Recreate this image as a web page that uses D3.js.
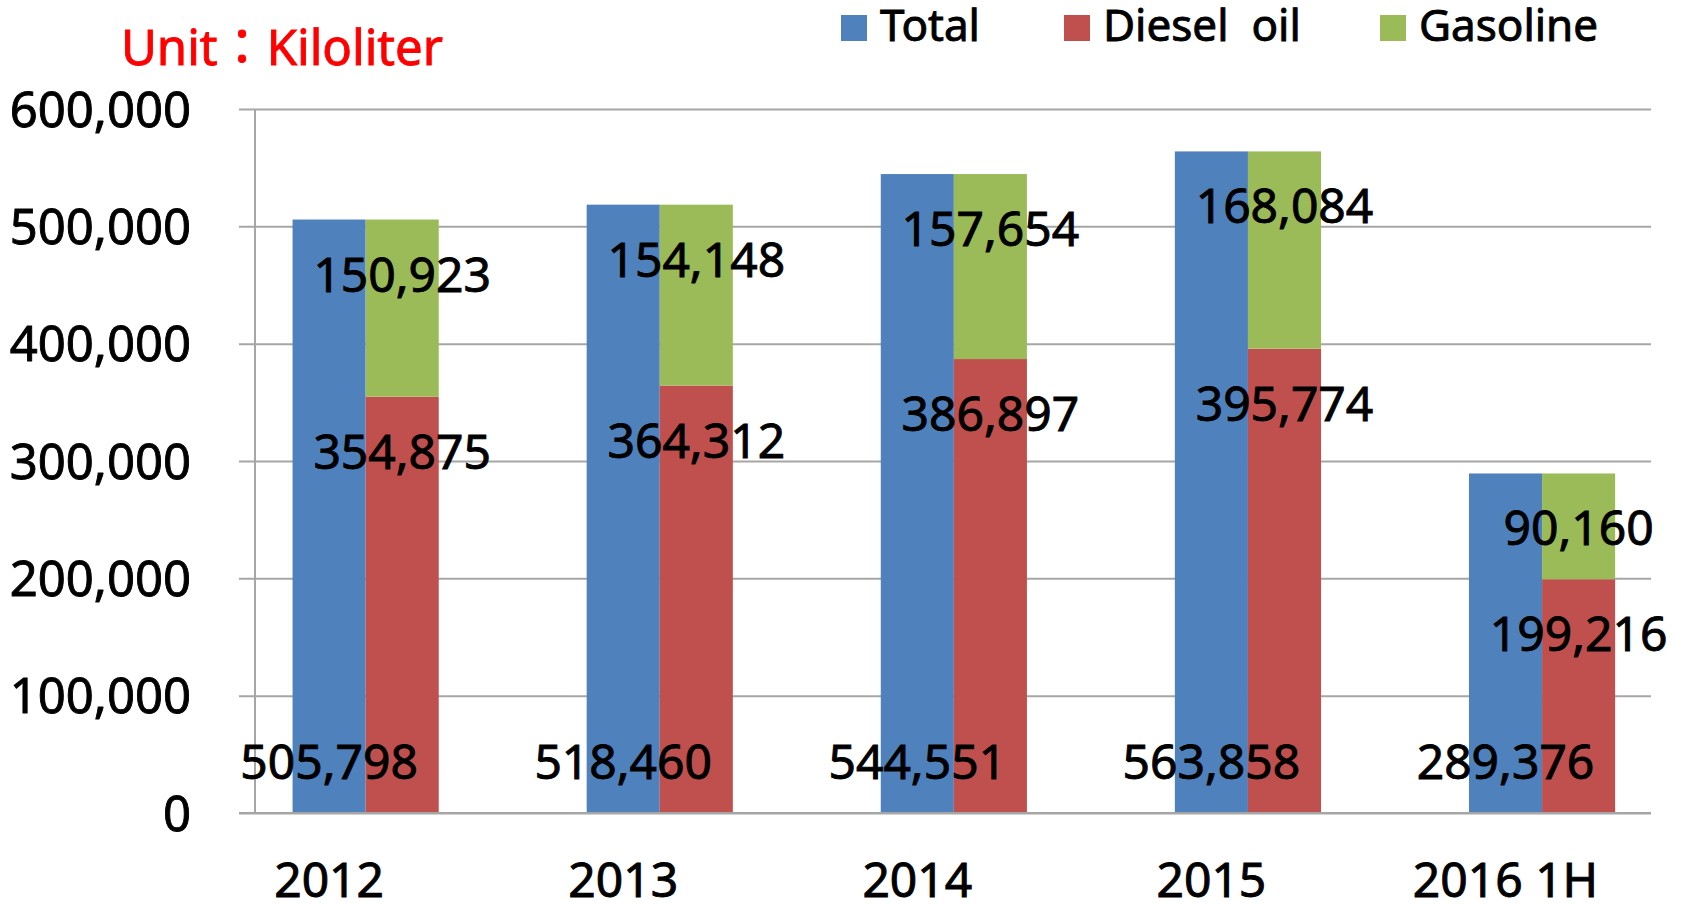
<!DOCTYPE html>
<html>
<head>
<meta charset="utf-8">
<script src="https://cdn.jsdelivr.net/npm/d3@7"></script>
<style>
  html, body { margin: 0; padding: 0; background: #fff; }
  svg { display: block; }
  text { font-family: "Noto Sans", "Noto Sans CJK TC", sans-serif; fill: #000; stroke: #000; stroke-width: 0.9px; }
</style>
</head>
<body>
<svg id="chart" width="1686" height="905"></svg>
<script>
const years = ["2012", "2013", "2014", "2015", "2016 1H"];
const totalVals = [505798, 518460, 544551, 563858, 289376];
const dieselVals = [354875, 364312, 386897, 395774, 199216];
const gasolineVals = [150923, 154148, 157654, 168084, 90160];
const yTicks = [0, 100000, 200000, 300000, 400000, 500000, 600000];
const seriesNames = ["Total", "Diesel  oil", "Gasoline"];
const colors = ["#4F81BD", "#C0504D", "#9BBB59"];
const unitLabel = "Unit：Kiloliter";

const svg = d3.select("#chart");
const fmt = d3.format(",");

const plotLeft = 255, plotRight = 1651, gridLeft = 239;
const y = d3.scaleLinear().domain([0, 600000]).range([813, 109]);
const x = d3.scaleBand().domain(years).range([218.6, 1689.1])
  .paddingInner(0.503).paddingOuter(0.2515);
const xs = d3.scaleBand().domain(["total", "fuel"]).range([0, x.bandwidth()]);

// gridlines + y tick labels
const yAxis = d3.axisLeft(y).tickValues(yTicks).tickFormat(fmt)
  .tickSize(plotRight - gridLeft).tickPadding(48);
const gy = svg.append("g").attr("transform", `translate(${plotRight},0)`).call(yAxis);
gy.select(".domain").remove();
gy.selectAll(".tick line").attr("stroke", "#A6A6A6").attr("stroke-width", 2);
gy.selectAll(".tick text").attr("font-size", 49).attr("dy", "0.35em")
  .style("font-family", '"Noto Sans", sans-serif');

// vertical axis line
svg.append("line").attr("x1", plotLeft).attr("x2", plotLeft)
  .attr("y1", y(600000)).attr("y2", y(0))
  .attr("stroke", "#A6A6A6").attr("stroke-width", 2);

const rows = years.map((yr, i) => ({
  yr, total: totalVals[i], diesel: dieselVals[i], gasoline: gasolineVals[i]
}));

const g = svg.append("g");
const grp = g.selectAll("g.cat").data(rows).join("g")
  .attr("transform", d => `translate(${x(d.yr)},0)`);

// Total bars
grp.append("rect")
  .attr("x", xs("total")).attr("width", xs.bandwidth())
  .attr("y", d => y(d.total)).attr("height", d => y(0) - y(d.total))
  .attr("fill", colors[0]);
// Diesel
grp.append("rect")
  .attr("x", xs("fuel")).attr("width", xs.bandwidth())
  .attr("y", d => y(d.diesel)).attr("height", d => y(0) - y(d.diesel))
  .attr("fill", colors[1]);
// Gasoline stacked
grp.append("rect")
  .attr("x", xs("fuel")).attr("width", xs.bandwidth())
  .attr("y", d => y(d.diesel + d.gasoline)).attr("height", d => y(d.diesel) - y(d.diesel + d.gasoline))
  .attr("fill", colors[2]);

// baseline redraw on top
svg.append("line").attr("x1", gridLeft).attr("x2", plotRight)
  .attr("y1", y(0)).attr("y2", y(0))
  .attr("stroke", "#A6A6A6").attr("stroke-width", 2);

// data labels
const lbl = svg.append("g").attr("font-size", 48).attr("text-anchor", "middle");
rows.forEach(d => {
  const bx = x(d.yr);
  lbl.append("text").attr("x", bx + xs("total") + xs.bandwidth() / 2)
    .attr("y", y(0) - 34).text(fmt(d.total));
  lbl.append("text").attr("x", bx + xs("fuel") + xs.bandwidth() / 2)
    .attr("y", y(d.diesel) + 72).text(fmt(d.diesel));
  lbl.append("text").attr("x", bx + xs("fuel") + xs.bandwidth() / 2)
    .attr("y", y(d.diesel + d.gasoline) + 72).text(fmt(d.gasoline));
});

// category labels
svg.append("g").selectAll("text").data(years).join("text")
  .attr("x", d => x(d) + xs("total") + xs.bandwidth() / 2)
  .attr("y", 897).attr("text-anchor", "middle").attr("font-size", 48)
  .text(d => d);

// title
svg.append("text").attr("x", 121).attr("y", 65).attr("font-size", 50)
  .attr("textLength", 322).attr("lengthAdjust", "spacingAndGlyphs")
  .style("fill", "#FF0000").style("stroke", "#FF0000").text(unitLabel);

// legend
const legX = [841, 1064, 1380];
const leg = svg.append("g").selectAll("g").data(seriesNames).join("g")
  .attr("transform", (d, i) => `translate(${legX[i]},0)`);
leg.append("rect").attr("x", 0).attr("y", 15).attr("width", 26).attr("height", 26)
  .attr("fill", (d, i) => colors[i]);
leg.append("text").attr("x", 39).attr("y", 41).attr("font-size", 44)
  .style("white-space", "pre").attr("xml:space", "preserve").text(d => d);
</script>
</body>
</html>
